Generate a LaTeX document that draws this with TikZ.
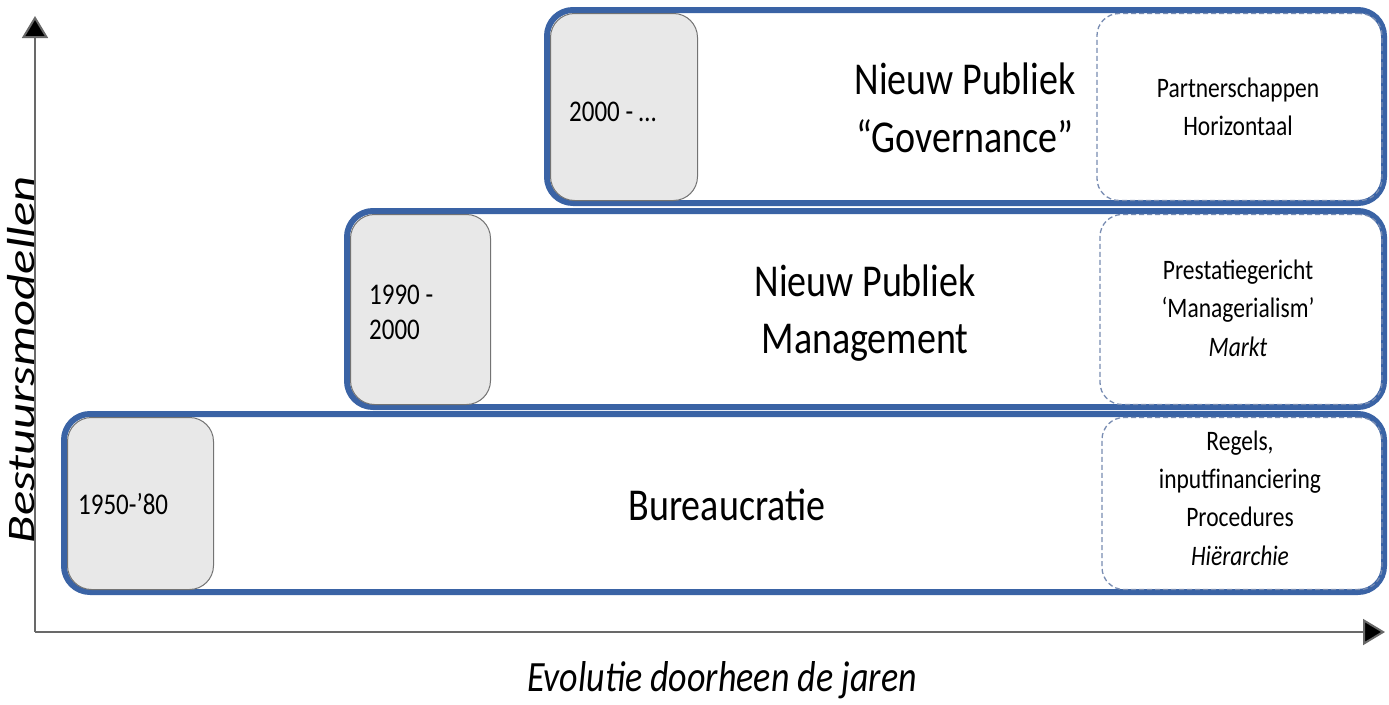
\documentclass[tikz,border=0pt]{standalone}
\usepackage{fontspec}
\setmainfont{Carlito}
\usetikzlibrary{arrows.meta}
\definecolor{bandblue}{RGB}{58,99,165}
\definecolor{dashblue}{RGB}{120,140,178}
\definecolor{greyfill}{RGB}{232,232,232}
\definecolor{greyline}{RGB}{115,115,115}
\definecolor{axisgrey}{RGB}{105,105,105}
\begin{document}
\begin{tikzpicture}[x=1pt,y=-1pt,
  band/.style={draw=bandblue, line width=6pt, fill=white, rounded corners=26pt, anchor=north west, inner sep=0pt, outer sep=0pt},
  yearbox/.style={draw=greyline, line width=1pt, fill=greyfill, rounded corners=24pt, anchor=north west, inner sep=0pt, outer sep=0pt},
  tagbox/.style={draw=dashblue, dash pattern=on 5pt off 3pt, line width=1.3pt, rounded corners=22pt, anchor=north west, inner sep=0pt, outer sep=0pt},
  vt/.style={transform shape, yscale=1.2},
  maintext/.style={vt, font=\fontsize{38}{48}\selectfont, align=center, inner sep=0pt},
  tagtext/.style={vt, font=\fontsize{23.5}{32}\selectfont, align=center, inner sep=0pt},
  yeartext/.style={vt, font=\fontsize{25}{29}\selectfont, align=left, anchor=west, inner sep=0pt},
  axis/.style={draw=axisgrey, line width=2pt, -{Triangle[length=22pt,width=26pt,fill=black]}},
]
\useasboundingbox (0,0) rectangle (1389,704);
% axes
\coordinate (origin) at (35,632);
\coordinate (ytop) at (35,16);
\coordinate (xend) at (1385,632);
\draw[axis] (origin) -- (ytop);
\draw[axis] (origin) -- (xend);
\node[transform shape, rotate=90, xscale=1.3, font=\fontsize{39}{46}\selectfont\itshape, inner sep=0pt] (ylab) at (21,360) {Bestuursmodellen};
\node[vt, font=\fontsize{36}{44}\selectfont\itshape, inner sep=0pt] (xlab) at (722,680) {Evolutie doorheen de jaren};

% band 1: Bureaucratie
\node[band, minimum width=1320pt, minimum height=178pt] (b1) at (64,414) {};
\node[tagbox, minimum width=280pt, minimum height=172pt] (t1) at (1102,417.5) {};
\node[yearbox, minimum width=146pt, minimum height=172pt] (y1) at (67.5,417.5) {};
\node[yeartext] (y1t) at (78,504) {1950-’80};
\node[maintext] (m1) at (727,505) {Bureaucratie};
\node[tagtext] (t1t) at (1240,498) {Regels,\\inputfinanciering\\Procedures\\\textit{Hiërarchie}};

% band 2: Nieuw Publiek Management
\node[band, minimum width=1037pt, minimum height=196pt] (b2) at (347,211) {};
\node[tagbox, minimum width=282pt, minimum height=190pt] (t2) at (1100,214.5) {};
\node[yearbox, minimum width=140pt, minimum height=190pt] (y2) at (350.5,214.5) {};
\node[yeartext] (y2t) at (369,312) {1990 -\\2000};
\node[maintext] (m2) at (865,313) {Nieuw Publiek\\Management};
\node[tagtext] (t2t) at (1238,308) {Prestatiegericht\\‘Managerialism’\\\textit{Markt}};

% band 3: Nieuw Publiek Governance
\node[band, minimum width=837pt, minimum height=193pt] (b3) at (547,10) {};
\node[tagbox, minimum width=285pt, minimum height=187pt] (t3) at (1097,13.5) {};
\node[yearbox, minimum width=147pt, minimum height=187pt] (y3) at (550.5,13.5) {};
\node[yeartext] (y3t) at (569,112) {2000 - …};
\node[maintext] (m3) at (965,108) {Nieuw Publiek\\“Governance”};
\node[tagtext] (t3t) at (1238,107) {Partnerschappen\\Horizontaal};
\end{tikzpicture}
\end{document}
